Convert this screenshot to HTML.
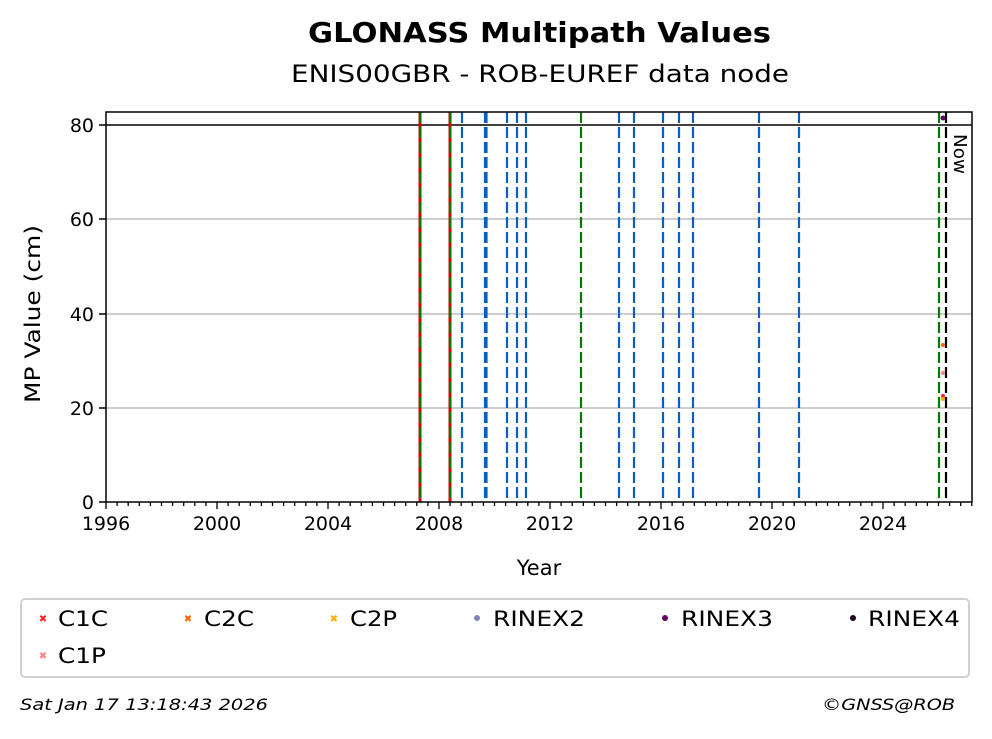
<!DOCTYPE html>
<html><head><meta charset="utf-8"><style>
body{margin:0;background:#fff;}
svg text{font-family:"DejaVu Sans","Liberation Sans",sans-serif;}
</style></head><body>
<svg width="992" height="734" xmlns="http://www.w3.org/2000/svg">
<rect width="992" height="734" fill="#fff"/>
<text x="308" y="42" font-size="28" font-weight="bold" textLength="463" lengthAdjust="spacingAndGlyphs">GLONASS Multipath Values</text>
<text x="291" y="82" font-size="24" textLength="498" lengthAdjust="spacingAndGlyphs">ENIS00GBR - ROB-EUREF data node</text>
<g stroke="#b0b0b0" stroke-width="1.3">
<line x1="106" x2="972" y1="408" y2="408"/>
<line x1="106" x2="972" y1="314" y2="314"/>
<line x1="106" x2="972" y1="219" y2="219"/>
</g>
<line x1="106" x2="972" y1="125" y2="125" stroke="#000" stroke-width="1.5"/>
<g stroke-width="2.2" fill="none">
<line x1="420" x2="420" y1="112" y2="502" stroke="#d00" stroke-width="3"/>
<line x1="450" x2="450" y1="112" y2="502" stroke="#d00" stroke-width="3"/>
<g stroke="#007a00" stroke-dasharray="11,4">
<line x1="420" x2="420" y1="112" y2="502"/>
<line x1="450" x2="450" y1="112" y2="502"/>
<line x1="581" x2="581" y1="112" y2="502"/>
<line x1="939" x2="939" y1="112" y2="502"/>
</g>
<g stroke="#0a5fc0" stroke-dasharray="11,4">
<line x1="462" x2="462" y1="112" y2="502"/>
<line x1="485" x2="485" y1="112" y2="502"/>
<line x1="486.5" x2="486.5" y1="112" y2="502"/>
<line x1="507" x2="507" y1="112" y2="502"/>
<line x1="517" x2="517" y1="112" y2="502"/>
<line x1="526" x2="526" y1="112" y2="502"/>
<line x1="619" x2="619" y1="112" y2="502"/>
<line x1="634" x2="634" y1="112" y2="502"/>
<line x1="663" x2="663" y1="112" y2="502"/>
<line x1="679" x2="679" y1="112" y2="502"/>
<line x1="693" x2="693" y1="112" y2="502"/>
<line x1="759" x2="759" y1="112" y2="502"/>
<line x1="799" x2="799" y1="112" y2="502"/>
</g>
<line x1="946" x2="946" y1="112" y2="502" stroke="#000" stroke-dasharray="11,4"/>
</g>
<text transform="translate(954,134) rotate(90)" font-size="18" textLength="40" lengthAdjust="spacingAndGlyphs">Now</text>
<circle cx="943" cy="118" r="2.5" fill="#660066"/>
<circle cx="943" cy="345" r="2" fill="#ff6600"/>
<circle cx="943" cy="373" r="2" fill="#ff8080"/>
<circle cx="943" cy="396" r="2" fill="#ff2020"/>
<circle cx="943" cy="399" r="2" fill="#ffaa00"/>
<rect x="106" y="112" width="866" height="390" fill="none" stroke="#000" stroke-width="1.5"/>
<g stroke="#000" stroke-width="1.5">
<line x1="99" x2="106" y1="502" y2="502"/><line x1="99" x2="106" y1="408" y2="408"/><line x1="99" x2="106" y1="314" y2="314"/><line x1="99" x2="106" y1="219" y2="219"/><line x1="99" x2="106" y1="125" y2="125"/>
</g>
<g font-size="19" text-anchor="end">
<text x="94" y="509">0</text><text x="94" y="415">20</text><text x="94" y="321">40</text><text x="94" y="226">60</text><text x="94" y="132">80</text>
</g>
<text transform="translate(40,403) rotate(-90)" font-size="21" textLength="178" lengthAdjust="spacingAndGlyphs">MP Value (cm)</text>
<g stroke="#000" stroke-width="1.3" id="xt"></g>
<g font-size="19" text-anchor="middle">
<text x="106" y="530">1996</text><text x="217" y="530">2000</text><text x="328" y="530">2004</text><text x="439" y="530">2008</text><text x="550" y="530">2012</text><text x="661" y="530">2016</text><text x="772" y="530">2020</text><text x="883" y="530">2024</text>
</g>
<text x="539" y="575" text-anchor="middle" font-size="21">Year</text>
<rect x="21" y="599" width="948" height="78" rx="4" fill="#fff" stroke="#d0d0d0" stroke-width="2"/>
<g font-size="21">
<text x="58" y="626" textLength="50" lengthAdjust="spacingAndGlyphs">C1C</text><text x="204" y="626" textLength="50" lengthAdjust="spacingAndGlyphs">C2C</text><text x="350" y="626" textLength="47" lengthAdjust="spacingAndGlyphs">C2P</text><text x="493" y="626" textLength="92" lengthAdjust="spacingAndGlyphs">RINEX2</text><text x="681" y="626" textLength="92" lengthAdjust="spacingAndGlyphs">RINEX3</text><text x="868" y="626" textLength="92" lengthAdjust="spacingAndGlyphs">RINEX4</text>
<text x="58" y="663" textLength="48" lengthAdjust="spacingAndGlyphs">C1P</text>
</g>
<g font-size="10" font-weight="bold" text-anchor="middle">
<text x="43" y="622" fill="#ff2020">✖</text><text x="188" y="622" fill="#ff6600">✖</text><text x="334" y="622" fill="#ffaa00">✖</text><text x="43" y="659" fill="#ff8080">✖</text>
</g>
<circle cx="477" cy="618" r="3" fill="#8080c0"/><circle cx="665" cy="618" r="3" fill="#660066"/><circle cx="853" cy="618" r="3" fill="#220022"/>
<text x="20" y="710" font-size="16" font-style="italic" textLength="248" lengthAdjust="spacingAndGlyphs">Sat Jan 17 13:18:43 2026</text>
<text x="822" y="710" font-size="16" font-style="italic" textLength="133" lengthAdjust="spacingAndGlyphs">©GNSS@ROB</text>
</svg>
<script>
var g=document.getElementById('xt'),s='';
for(var i=0;i<=78;i++){var x=106+i*11.1;if(x>972)break;var maj=i%10==0;s+='<line x1="'+x+'" x2="'+x+'" y1="502" y2="'+(maj?509:506)+'"/>';}
g.innerHTML=s;
</script>
</body></html>
